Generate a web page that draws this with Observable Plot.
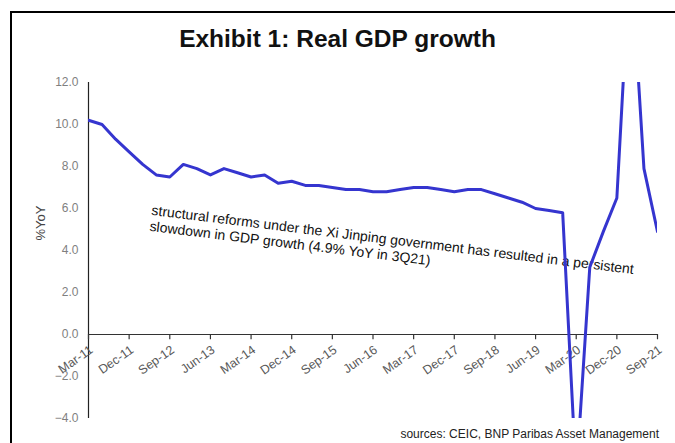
<!DOCTYPE html>
<html><head><meta charset="utf-8">
<script src="https://cdn.jsdelivr.net/npm/d3@7"></script>
<script src="https://cdn.jsdelivr.net/npm/@observablehq/plot@0.6"></script>
<style>
body{margin:0;background:#fff;}
#wrap{position:relative;width:675px;height:443px;overflow:hidden;font-family:"Liberation Sans",Arial,sans-serif;background:#fff;}
#frame{position:absolute;left:10px;top:11px;width:700px;height:500px;border-top:2px solid #000;border-left:2px solid #000;}
#title{position:absolute;left:0;width:675px;top:25px;text-align:center;font-weight:bold;font-size:24.5px;color:#111;line-height:28px;}
#caption{position:absolute;right:16px;top:427px;font-size:12px;color:#222;line-height:14px;}
#chart{position:absolute;left:0;top:0;}
</style></head><body>
<div id="wrap"><div id="frame"></div><div id="chart"></div><div id="title">Exhibit 1: Real GDP growth</div><div id="caption">sources: CEIC, BNP Paribas Asset Management</div></div>
<script>
const quarters = ["Mar-11","Jun-11","Sep-11","Dec-11","Mar-12","Jun-12","Sep-12","Dec-12","Mar-13","Jun-13","Sep-13","Dec-13","Mar-14","Jun-14","Sep-14","Dec-14","Mar-15","Jun-15","Sep-15","Dec-15","Mar-16","Jun-16","Sep-16","Dec-16","Mar-17","Jun-17","Sep-17","Dec-17","Mar-18","Jun-18","Sep-18","Dec-18","Mar-19","Jun-19","Sep-19","Dec-19","Mar-20","Jun-20","Sep-20","Dec-20","Mar-21","Jun-21","Sep-21"];
const gdpGrowth = [10.2,10.0,9.3,8.7,8.1,7.6,7.5,8.1,7.9,7.6,7.9,7.7,7.5,7.6,7.2,7.3,7.1,7.1,7.0,6.9,6.9,6.8,6.8,6.9,7.0,7.0,6.9,6.8,6.9,6.9,6.7,6.5,6.3,6.0,5.9,5.8,-6.8,3.2,4.9,6.5,18.3,7.9,4.9];
const tickLabels = ["Mar-11","Dec-11","Sep-12","Jun-13","Mar-14","Dec-14","Sep-15","Jun-16","Mar-17","Dec-17","Sep-18","Jun-19","Mar-20","Dec-20","Sep-21"];
const yTicks = [-4,-2,0,2,4,6,8,10,12];
const yLabel = "%YoY";
const annotation = "structural reforms under the Xi Jinping government has resulted in a persistent\nslowdown in GDP growth (4.9% YoY in 3Q21)";

const data = quarters.map((q, i) => ({quarter: q, value: gdpGrowth[i]}));

const plot = Plot.plot({
  width: 675, height: 443,
  marginLeft: 88, marginRight: 18, marginTop: 82, marginBottom: 25,
  style: {fontFamily: "Liberation Sans, Arial, sans-serif", background: "transparent", overflow: "visible"},
  x: {type: "point", domain: quarters, padding: 0, round: false, axis: null},
  y: {domain: [-4, 12]},
  marks: [
    Plot.axisY({ticks: yTicks, tickFormat: d3.format(".1f"), tickSize: 0, tickPadding: 10, fontSize: 12, color: "#7f7f7f", label: null}),
    Plot.text([yLabel], {frameAnchor: "left", text: d => d, rotate: -90, dx: -48, dy: -10, fill: "#444", fontSize: 13}),
    Plot.ruleX([quarters[0]], {x: d => d, y1: -4, y2: 12, stroke: "#222", strokeWidth: 1.2}),
    Plot.ruleY([0], {stroke: "#333", strokeWidth: 1.2}),
    Plot.ruleX(tickLabels, {x: d => d, y1: 0, y2: -0.25, stroke: "#333", strokeWidth: 1.2}),
    Plot.text(tickLabels, {x: d => d, y: 0, text: d => d, rotate: -35, textAnchor: "end", dx: 3, dy: 14, fill: "#595959", fontSize: 12.5}),
    Plot.text([annotation], {frameAnchor: "top-left", text: d => d, textAnchor: "start", lineAnchor: "top", rotate: 7, dx: 64, dy: 121, fill: "#111", fontSize: 14, lineHeight: 1.15}),
    Plot.line(data, {x: "quarter", y: "value", stroke: "#3535cf", strokeWidth: 3, clip: true})
  ]
});
document.getElementById("chart").appendChild(plot);
</script>
</body></html>
